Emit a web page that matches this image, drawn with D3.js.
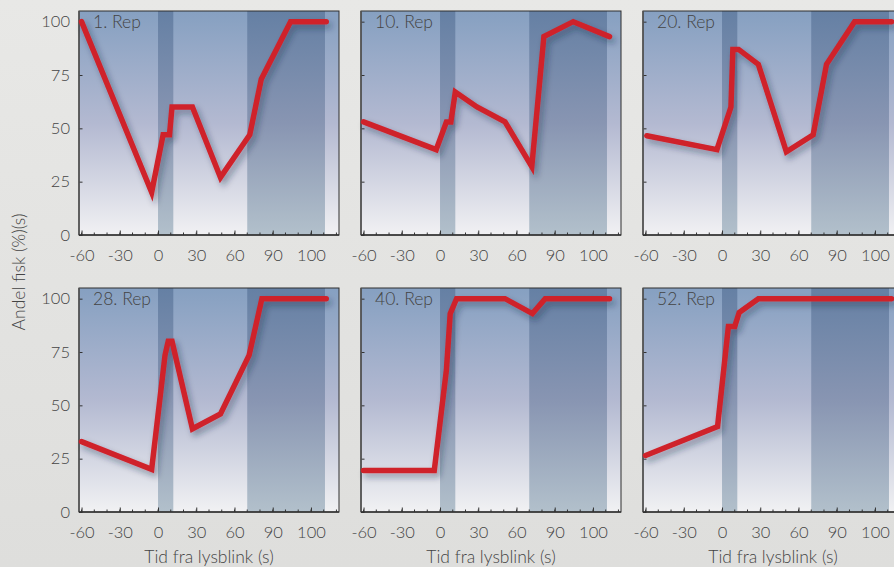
<!DOCTYPE html>
<html><head><meta charset="utf-8">
<script src="https://cdn.jsdelivr.net/npm/d3@7"></script>
<style>
html,body{margin:0;padding:0;background:#e7e7e5;}
svg{display:block;}
text{font-family:Lato,"Open Sans",sans-serif;fill:#444;font-weight:300;}
</style></head>
<body>
<script>
// ---- data ----
const panelTitles = ["1. Rep","10. Rep","20. Rep","28. Rep","40. Rep","52. Rep"];
const rep1  = [[-60,100],[-5,20],[4,47],[9,47],[11,60],[27,60],[49,27],[72,47],[81,73],[104,100],[132,100]];
const rep10 = [[-60,53],[-3,40],[5,53],[8.5,53],[12,67],[29,60],[51,53],[72,32],[81.5,93],[104.5,100],[133,93]];
const rep20 = [[-59,46.5],[-4,40],[7,60],[8.5,87],[13,87],[28.5,80],[50.5,39],[71.5,47],[82,80],[104,100],[133,100]];
const rep28 = [[-60,33],[-5,20],[5.5,73.5],[8,80],[11,80],[27,39],[49,46],[71.5,73.5],[81.5,100],[132,100]];
const rep40 = [[-60,19.5],[-4.5,19.5],[5,66.5],[8,93],[13,100],[51,100],[72.5,93],[82.5,100],[133,100]];
const rep52 = [[-60,26.5],[-3.5,40],[5,87],[10,87],[13.5,93.5],[28.5,100],[133,100]];
const seriesList = [rep1, rep10, rep20, rep28, rep40, rep52];
const xTickValues = [-60,-30,0,30,60,90,120];
const xTickLabels = ["-60","-30","0","30","60","90","100"];
const xMinorTicks = d3.range(-60, 141, 10);
const yTickValues = [0,25,50,75,100];
const shadedBands = [[0,12],[70,131]];
const xTitle = "Tid fra lysblink (s)";
const yTitle = "Andel fisk (%)(s)";

// ---- layout ----
const W = 894, H = 567;
const pw = 260, ph = 224;
const colX = [79, 361, 643];
const rowY = [11, 288];

const svg = d3.select("body").append("svg").attr("width", W).attr("height", H);
const defs = svg.append("defs");

const bg = defs.append("linearGradient").attr("id","bgGrad").attr("x1",0).attr("y1",0).attr("x2",0).attr("y2",1);
bg.append("stop").attr("offset","0%").attr("stop-color","#86a0c1");
bg.append("stop").attr("offset","50%").attr("stop-color","#b3b9d1");
bg.append("stop").attr("offset","100%").attr("stop-color","#f1f1f3");

const bandG = defs.append("linearGradient").attr("id","bandGrad").attr("x1",0).attr("y1",0).attr("x2",0).attr("y2",1);
bandG.append("stop").attr("offset","0%").attr("stop-color","#6580a4");
bandG.append("stop").attr("offset","50%").attr("stop-color","#8895b2");
bandG.append("stop").attr("offset","100%").attr("stop-color","#b2c0cb");

const pageG = defs.append("linearGradient").attr("id","pageGrad").attr("x1",0).attr("y1",0).attr("x2",0).attr("y2",1);
pageG.append("stop").attr("offset","0%").attr("stop-color","#e8e8e6");
pageG.append("stop").attr("offset","100%").attr("stop-color","#dededc");

const f = defs.append("filter").attr("id","shadow").attr("x","-10%").attr("y","-10%").attr("width","130%").attr("height","130%");
f.append("feDropShadow").attr("dx",3).attr("dy",4).attr("stdDeviation",3)
  .attr("flood-color","#1a2540").attr("flood-opacity",0.4);

svg.append("rect").attr("width",W).attr("height",H).attr("fill","url(#pageGrad)");

const x = d3.scaleLinear().domain([-62, 142]).range([0, pw]);
const y = d3.scaleLinear().domain([0, 105]).range([ph, 0]);
const line = d3.line().x(d => x(d[0])).y(d => y(d[1])).curve(d3.curveLinear);

seriesList.forEach((data, i) => {
  const col = i % 3, row = Math.floor(i / 3);
  const g = svg.append("g").attr("transform", `translate(${colX[col]},${rowY[row]})`);

  g.append("rect").attr("width", pw).attr("height", ph).attr("fill","url(#bgGrad)");
  g.selectAll("rect.band").data(shadedBands).join("rect").attr("class","band")
    .attr("x", d => x(d[0])).attr("width", d => x(d[1]) - x(d[0]))
    .attr("y", 0).attr("height", ph).attr("fill","url(#bandGrad)");

  // minor x ticks
  g.selectAll("line.minor").data(xMinorTicks).join("line").attr("class","minor")
    .attr("x1", d => x(d)).attr("x2", d => x(d))
    .attr("y1", ph).attr("y2", ph - 2.5)
    .attr("stroke","#333").attr("stroke-width",1);

  // x axis
  const xAxis = d3.axisBottom(x).tickValues(xTickValues)
    .tickFormat((d, k) => xTickLabels[k]).tickSizeInner(-4.5).tickSizeOuter(0).tickPadding(14);
  const xa = g.append("g").attr("transform", `translate(0,${ph})`).call(xAxis);
  xa.select(".domain").remove();
  xa.selectAll("line").attr("stroke","#333");
  xa.selectAll("text").attr("font-size", 16.5).attr("fill","#484848").style("font-family","Lato, sans-serif").style("font-weight",300);

  // y axis
  const yAxis = d3.axisLeft(y).tickValues(yTickValues)
    .tickFormat(col === 0 ? d3.format("d") : () => "").tickSizeInner(-3.5).tickSizeOuter(0).tickPadding(9);
  const ya = g.append("g").call(yAxis);
  ya.select(".domain").remove();
  ya.selectAll("line").attr("stroke","#333");
  ya.selectAll("text").attr("font-size", 16.5).attr("fill","#484848").style("font-family","Lato, sans-serif").style("font-weight",300);

  // frame
  g.append("rect").attr("width", pw).attr("height", ph).attr("fill","none")
    .attr("stroke","#2e2e2e").attr("stroke-width",1);
  g.append("line").attr("x1",0).attr("x2",0).attr("y1",0).attr("y2",ph).attr("stroke","#555").attr("stroke-width",1.6);
  g.append("line").attr("x1",0).attr("x2",pw).attr("y1",ph).attr("y2",ph).attr("stroke","#333").attr("stroke-width",1.6);

  // series line
  g.append("path").datum(data).attr("d", line)
    .attr("fill","none").attr("stroke","#cf232b").attr("stroke-width",5.5)
    .attr("stroke-linejoin","miter").attr("stroke-linecap","round")
    .attr("filter","url(#shadow)");

  g.append("text").attr("x", 14).attr("y", 17).attr("font-size", 17.5)
    .attr("fill","#3a3a3a").text(panelTitles[i]);

  if (row === 1) {
    g.append("text").attr("x", pw/2).attr("y", 275).attr("text-anchor","middle")
      .attr("font-size", 17.5).attr("fill","#484848").text(xTitle);
  }
});

svg.append("text").attr("transform","translate(25,272) rotate(-90)").attr("text-anchor","middle")
  .attr("font-size", 17.5).attr("fill","#484848").text(yTitle);
</script>
</body></html>
